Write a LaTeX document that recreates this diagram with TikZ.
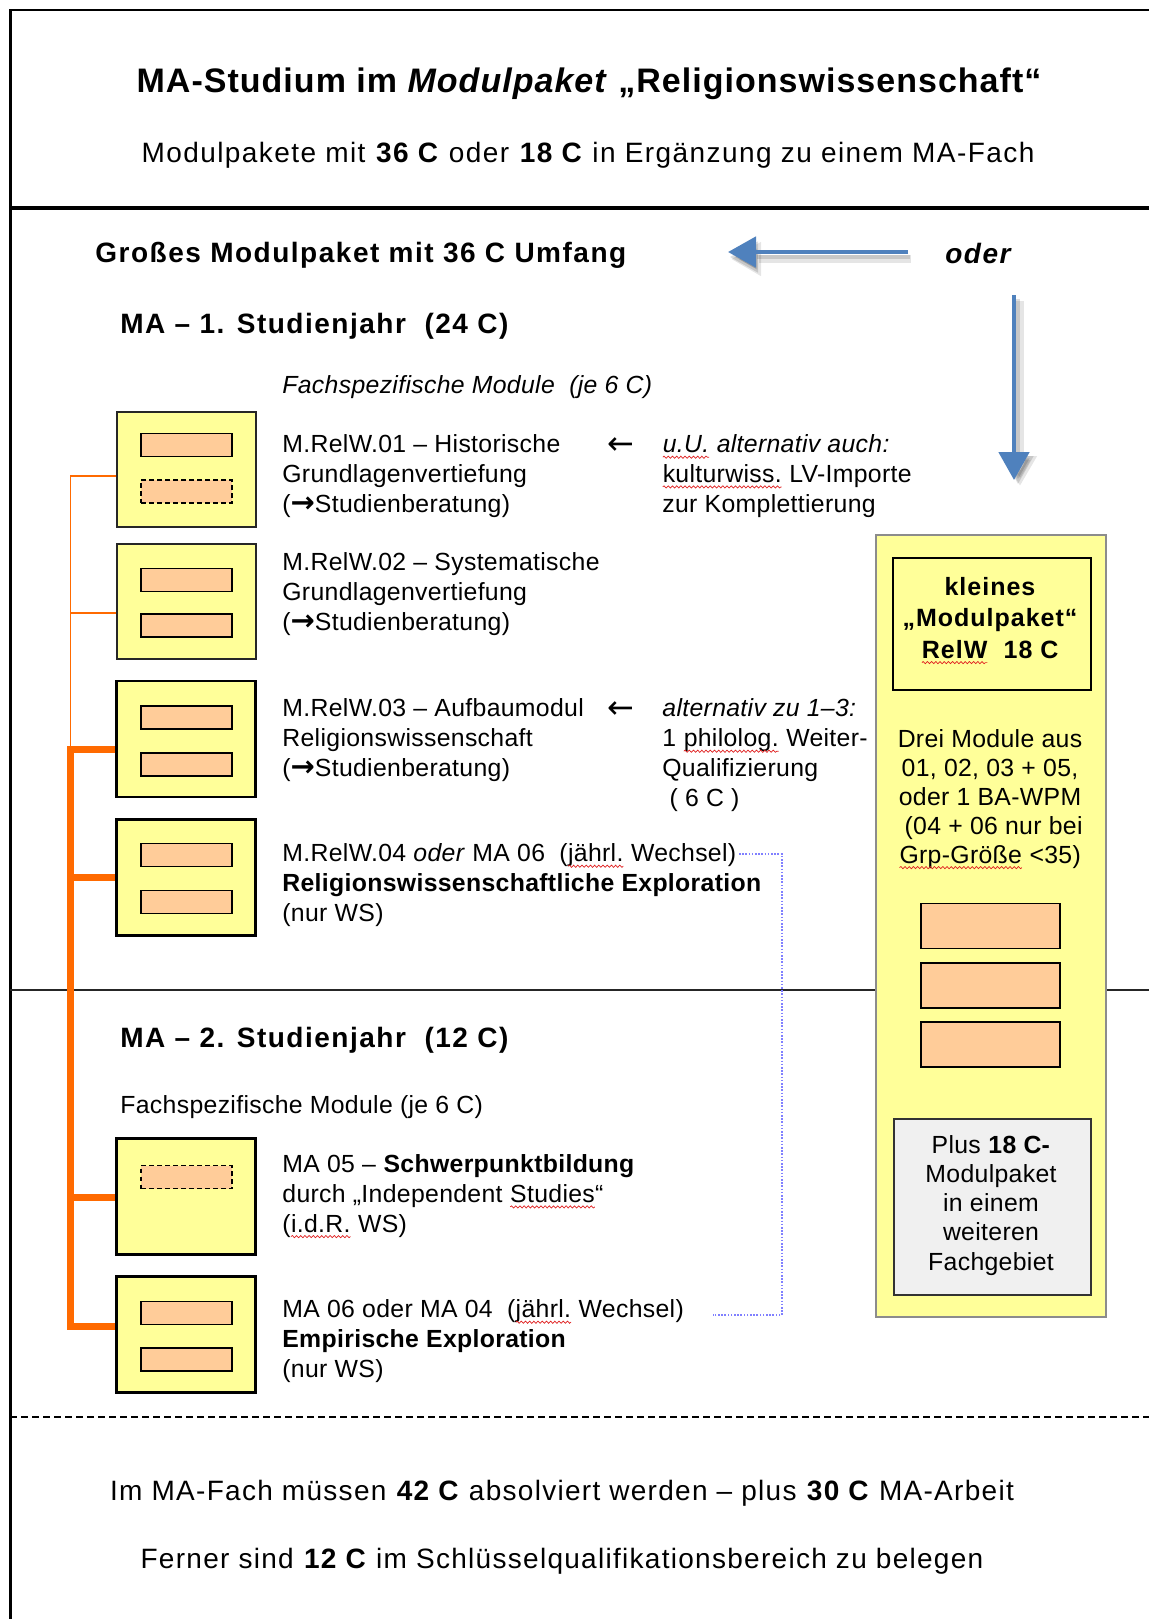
\documentclass[tikz,border=0pt]{standalone}
\usepackage{fontspec}
\setmainfont{Liberation Sans}
\newfontfamily\bodyfont[LetterSpace=1.3]{Liberation Sans}
\newfontfamily\headfont[LetterSpace=5.4]{Liberation Sans}
\newfontfamily\titlefont[LetterSpace=3.0]{Liberation Sans}
\newfontfamily\subfont[LetterSpace=5.1]{Liberation Sans}
\newfontfamily\lsfour[LetterSpace=4.0]{Liberation Sans}
\newfontfamily\footfont[LetterSpace=4.6]{Liberation Sans}
\newfontfamily\arrowfont{DejaVu Sans}
\usetikzlibrary{arrows.meta,decorations.pathmorphing}
\definecolor{modyellow}{HTML}{FFFF99}
\definecolor{modorange}{HTML}{FFCC99}
\definecolor{busorange}{HTML}{FF6A00}
\definecolor{arrowblue}{HTML}{4F81BD}
\definecolor{dotblue}{HTML}{8080FF}
\definecolor{boxgray}{HTML}{F0F0F0}
\definecolor{spellred}{HTML}{E02020}
\newcommand\sperr[1]{\tikz[baseline=(sp.base)]{\node[font={},inner sep=0pt,outer sep=0pt,anchor=base,align=left] (sp) {#1};\draw[spellred,line width=0.35pt,decorate,decoration={snake,amplitude=0.55pt,segment length=2.1pt}] ([yshift=-2.3pt]sp.base west) -- ([yshift=-2.3pt]sp.base east);}}
\newcommand\ra{{\arrowfont\bfseries\fontsize{14.5}{14.5}\selectfont →}}
\newcommand\la{{\arrowfont\fontsize{16}{16}\selectfont ←}}
\begin{document}
\begin{tikzpicture}[x=0.5pt,y=-0.5pt,
  bodytxt/.style={font=\bodyfont\fontsize{12.4}{14.85}\selectfont, inner sep=0pt, anchor=base west, align=left},
  headtxt/.style={font=\headfont\bfseries\fontsize{14}{17}\selectfont, inner sep=0pt, anchor=base west},
  foottxt/.style={font=\footfont\fontsize{14}{17}\selectfont, inner sep=0pt, anchor=base},
  modbox/.style={draw=black!85, line width=0.7pt, fill=modyellow, minimum width=69.5pt, minimum height=57.5pt, inner sep=0pt},
  modboxthick/.style={modbox, draw=black, line width=1.4pt, minimum height=58pt},
  slot/.style={draw=black, line width=0.8pt, fill=modorange, minimum width=45.5pt, minimum height=11.5pt, inner sep=0pt},
  slotdash/.style={slot, dash pattern=on 2.4pt off 1.6pt},
  bigslot/.style={slot, minimum width=69.5pt, minimum height=22.5pt},
  thinbus/.style={busorange, line width=0.8pt},
  thickbus/.style={busorange, line width=3.5pt},
  bluearrow/.style={arrowblue, line width=2.4pt, -{Triangle[length=14pt,width=15pt]}},
  arrowshadow/.style={black, opacity=0.10, line width=4pt, -{Triangle[length=15pt,width=16pt]}},
  arrowshadowcore/.style={black, opacity=0.13, line width=2.4pt, -{Triangle[length=14pt,width=15pt]}},
  dotline/.style={dotblue, line width=0.6pt, dash pattern=on 0.8pt off 0.8pt}
]
\useasboundingbox[fill=white] (0,0) rectangle (1149,1619);

% frame and separators
\draw[line width=1.5pt] (10,9) -- (10,1619);
\draw[line width=1.4pt] (9,10) -- (1149,10);
\draw[line width=2.2pt] (10,208) -- (1149,208);
\draw[line width=0.9pt, black!85] (10,990) -- (1149,990);
\draw[line width=0.8pt, dash pattern=on 3.5pt off 2pt] (10,1417) -- (1149,1417);

% header
\node[font=\titlefont\bfseries\fontsize{17}{20}\selectfont, inner sep=0pt, anchor=base] (title) at (589,92) {MA-Studium im \textit{Modulpaket} „Religionswissenschaft“};
\node[font=\subfont\fontsize{14}{17}\selectfont, inner sep=0pt, anchor=base] (subtitle) at (588,162) {Modulpakete mit \textbf{36 C} oder \textbf{18 C} in Ergänzung zu einem MA-Fach};

\node[headtxt] (gross) at (95,262) {Großes Modulpaket mit 36 C Umfang};
\node[headtxt] (oder) at (945,263) {\itshape oder};

% blue arrows
\coordinate (ha) at (908,252);
\coordinate (hb) at (728,252);
\coordinate (va) at (1014,295);
\coordinate (vb) at (1014,480);
\draw[arrowshadow] ([shift={(3,7)}]ha) -- ([shift={(3,7)}]hb);
\draw[arrowshadowcore] ([shift={(2,5)}]ha) -- ([shift={(2,5)}]hb);
\draw[arrowshadow] ([shift={(6,6)}]va) -- ([shift={(6,6)}]vb);
\draw[arrowshadowcore] ([shift={(4,4)}]va) -- ([shift={(4,4)}]vb);
\draw[bluearrow] (ha) -- (hb);
\draw[bluearrow] (va) -- (vb);

% year 1
\node[headtxt] (year1) at (120,333) {MA – 1. Studienjahr~~(24 C)};
\node[bodytxt] (fach1) at (282,393) {\itshape Fachspezifische Module~~(je 6 C)};

\node[modbox] (b1) at (186.5,469.5) {};
\node[slot] (s11) at (186.5,445) {};
\node[slotdash] (s12) at (186.5,491.5) {};
\node[modbox] (b2) at (186.5,601.5) {};
\node[slot] (s21) at (186.5,580) {};
\node[slot] (s22) at (186.5,625.5) {};
\node[modboxthick] (b3) at (186,739) {};
\node[slot] (s31) at (186.5,717.5) {};
\node[slot] (s32) at (186.5,764.5) {};
\node[modboxthick] (b4) at (186,877.5) {};
\node[slot] (s41) at (186.5,855) {};
\node[slot] (s42) at (186.5,902) {};

% multi-line nodes: base anchor = baseline of the last line
\node[bodytxt] (t1) at (282,512) {M.RelW.01 – Historische\\Grundlagenvertiefung\\(\ra Studienberatung)};
\node[bodytxt] (la1) at (607,454) {\la};
\node[bodytxt] (alt1) at (662,512) {\textit{\sperr{u.U.} alternativ auch:}\\\sperr{kulturwiss.} LV-Importe\\zur Komplettierung};
\node[bodytxt] (t2) at (282,630) {M.RelW.02 – Systematische\\Grundlagenvertiefung\\(\ra Studienberatung)};
\node[bodytxt] (t3) at (282,776) {M.RelW.03 – Aufbaumodul\\Religionswissenschaft\\(\ra Studienberatung)};
\node[bodytxt] (la3) at (607,718) {\la};
\node[bodytxt] (alt3) at (662,806) {\textit{alternativ zu 1–3:}\\1 \sperr{philolog.} Weiter-\\Qualifizierung\\~( 6 C )};
\node[bodytxt] (t4) at (282,921) {M.RelW.04 \textit{oder} MA 06~~(\sperr{jährl.} Wechsel)\\\textbf{Religionswissenschaftliche Exploration}\\(nur WS)};

% right column
\node[draw=black!45, line width=0.8pt, fill=modyellow, minimum width=115pt, minimum height=391pt, inner sep=0pt] (kbox) at (991,926) {};
\node[draw=black, line width=0.8pt, minimum width=99pt, minimum height=66pt, inner sep=0pt] (khead) at (992,624) {};
\node[font=\lsfour\bfseries\fontsize{12.5}{15.7}\selectfont, align=center, anchor=base, inner sep=0pt] (ktext) at (990,658) {kleines\\„Modulpaket“\\\sperr{RelW}~~18 C};
\node[bodytxt, font=\bodyfont\fontsize{12.4}{14.4}\selectfont, anchor=base, align=center] (kdesc) at (990,863) {Drei Module aus\\01, 02, 03 + 05,\\oder 1 BA-WPM\\~(04 + 06 nur bei\\\sperr{Grp-Größe} <35)};
\node[bigslot] (k1) at (990.5,926) {};
\node[bigslot] (k2) at (990.5,985.5) {};
\node[bigslot] (k3) at (990.5,1044.5) {};
\node[draw=black!80, line width=0.9pt, fill=boxgray, minimum width=98.5pt, minimum height=88pt, inner sep=0pt] (gbox) at (992.5,1207) {};
\node[bodytxt, font=\bodyfont\fontsize{12.4}{14.6}\selectfont, anchor=base, align=center] (gtext) at (991,1270) {Plus \textbf{18 C-}\\Modulpaket\\in einem\\weiteren\\Fachgebiet};

% year 2
\node[headtxt] (year2) at (120,1047) {MA – 2. Studienjahr~~(12 C)};
\node[bodytxt] (fach2) at (120,1113) {Fachspezifische Module (je 6 C)};
\node[modboxthick] (b5) at (186,1196.5) {};
\node[slotdash] (s51) at (186.5,1177) {};
\node[modboxthick] (b6) at (186,1334.5) {};
\node[slot] (s61) at (186.5,1313) {};
\node[slot] (s62) at (186.5,1359.5) {};
\node[bodytxt] (t5) at (282,1232) {MA 05 – \textbf{Schwerpunktbildung}\\durch „Independent \sperr{Studies}“\\(\sperr{i.d.R.} WS)};
\node[bodytxt] (t6) at (282,1377) {MA 06 oder MA 04~~(\sperr{jährl.} Wechsel)\\\textbf{Empirische Exploration}\\(nur WS)};

% orange bus
\coordinate (bus1) at (70.5,476);
\coordinate (bus2) at (70.5,613);
\coordinate (bus3) at (70.5,749);
\coordinate (bus4) at (70.5,877);
\coordinate (bus5) at (70.5,1197);
\coordinate (bus6) at (70.5,1326);
\draw[thinbus] (b1.west |- bus1) -- (bus1) -- (bus3);
\draw[thinbus] (bus2) -- (b2.west |- bus2);
\draw[thickbus] (b3.west |- bus3) -- (bus3) -- (bus6) -- (b6.west |- bus6);
\draw[thickbus] (bus4) -- (b4.west |- bus4);
\draw[thickbus] (bus5) -- (b5.west |- bus5);

% dotted link between the alternating modules
\coordinate (d1) at (739,854);
\coordinate (d2) at (782,854);
\coordinate (d3) at (782,1315);
\coordinate (d4) at (713,1315);
\draw[dotline] (d1) -- (d2) -- (d3) -- (d4);

% footer
\node[foottxt] (foot1) at (562,1500) {Im MA-Fach müssen \textbf{42 C} absolviert werden – plus \textbf{30 C} MA-Arbeit};
\node[foottxt] (foot2) at (562,1568) {Ferner sind \textbf{12 C} im Schlüsselqualifikationsbereich zu belegen};
\end{tikzpicture}
\end{document}
